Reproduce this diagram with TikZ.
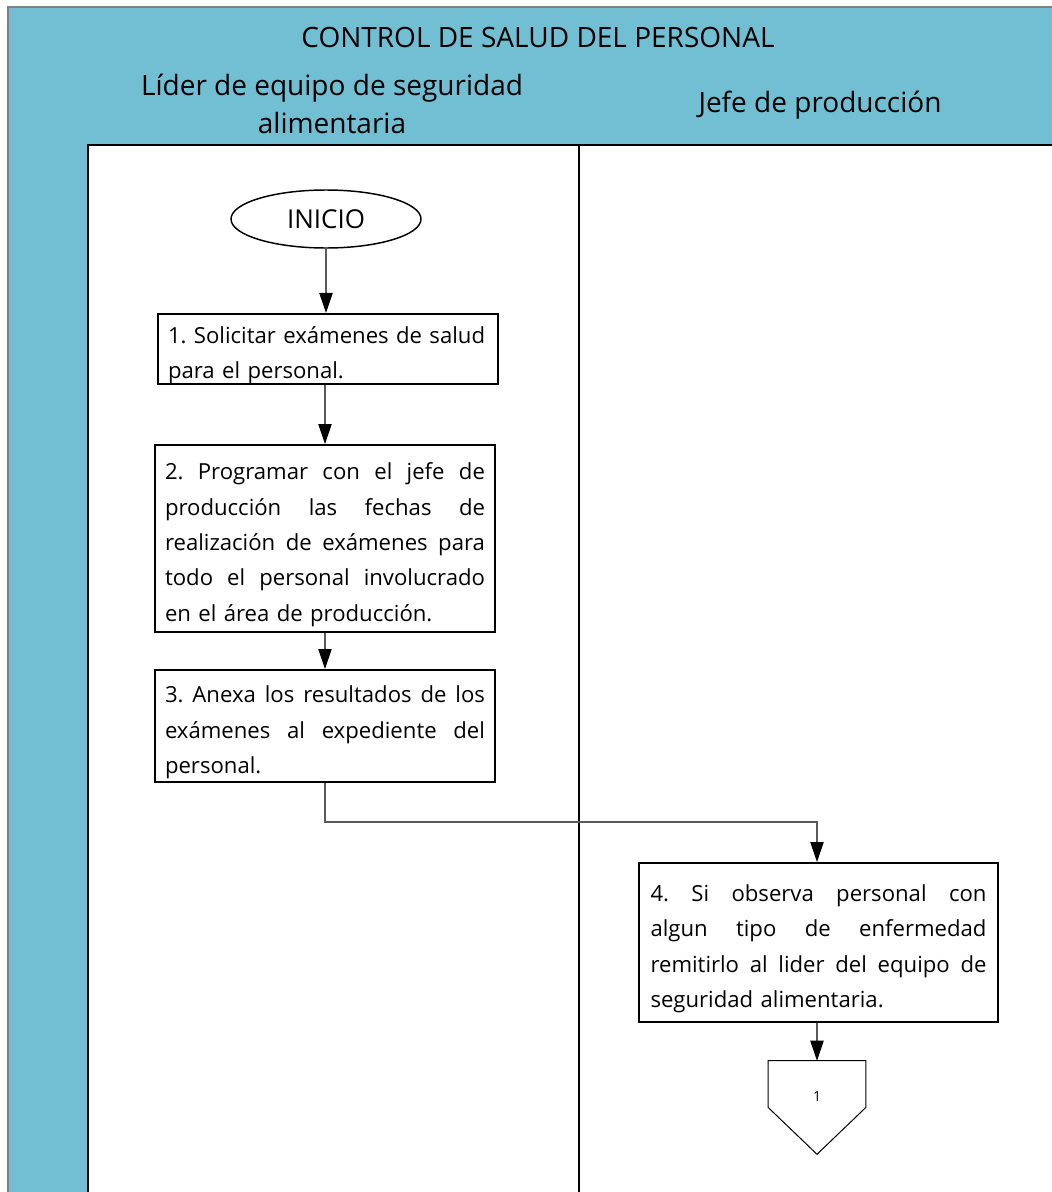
\documentclass[tikz,border=0pt]{standalone}
\usepackage{fontspec}
\setmainfont{Open Sans}
\usetikzlibrary{arrows.meta,shapes.geometric}
\definecolor{lanefill}{RGB}{114,190,211}
\definecolor{framegray}{RGB}{128,128,128}
\definecolor{linkgray}{RGB}{90,90,90}
\frenchspacing
% one fully justified line of a step text: interword spaces share the slack
\newcommand\jline[1]{\noindent\hbox to \hsize{\spaceskip=\fontdimen2\font plus 1fil\relax #1}}
% one line set at its natural width
\newcommand\nline[1]{\noindent\hbox to \hsize{#1\hfil}}
% extra room above the first line of a step text
\newcommand\headroom{\rule{0pt}{22pt}}

\begin{document}
\begin{tikzpicture}[x=0.75pt,y=-0.75pt,
  stepbox/.style={draw, line width=1.5pt, rectangle, inner sep=0pt,
    minimum width=255pt, text width=240pt, align=left,
    font=\fontsize{16.6}{26.6}\selectfont},
  widebox/.style={stepbox, minimum width=269.25pt, text width=252pt},
  flow/.style={-{Triangle[length=15pt,width=10pt,color=black]}, line width=0.8pt, draw=linkgray},
  heading/.style={font=\fontsize{21}{28}\selectfont, align=center}
  ]
\useasboundingbox (0,0) rectangle (1052,1192);

% pool background and frame
\fill[lanefill] (8,7) rectangle (1052,1192);
\draw[framegray, line width=1.5pt] (8,1192) -- (8,7) -- (1052,7);
\fill[white] (88,145) rectangle (1052,1192);
\draw[black, line width=1.5pt] (88,1192) -- (88,145) -- (1052,145);
\draw[black, line width=1.5pt] (579,145) -- (579,1192);

% titles
\node[heading] (title) at (538,37) {CONTROL DE SALUD DEL PERSONAL};
\node[heading] (laneA) at (332,104) {Líder de equipo de seguridad\\alimentaria};
\node[heading] (laneB) at (820,105) {Jefe de producción};

% flow
\node[ellipse, draw, line width=1.1pt, minimum width=142.5pt, minimum height=43.5pt,
  inner sep=0pt, font=\fontsize{19.5}{22}\selectfont] (inicio) at (326,219) {INICIO};

\node[stepbox, minimum height=51pt] (s1) at (328,349)
  {\nline{\headroom1. Solicitar exámenes de salud}\\
   para el personal.};

\node[stepbox, minimum height=140.25pt] (s2) at (325,538.5)
  {\jline{\headroom2. Programar con el jefe de}\\
   \jline{producción las fechas de}\\
   \jline{realización de exámenes para}\\
   \jline{todo el personal involucrado}\\
   en el área de producción.};

\node[stepbox, minimum height=84pt] (s3) at (325,726)
  {\jline{\headroom3. Anexa los resultados de los}\\
   \jline{exámenes al expediente del}\\
   personal.};

\node[widebox, minimum height=119.25pt] (s4) at (818.5,942.5)
  {\jline{\headroom4. Si observa personal con}\\
   \jline{algun tipo de enfermedad}\\
   \jline{remitirlo al lider del equipo de}\\
   seguridad alimentaria.};

% off-page connector
\node[minimum width=72.75pt, minimum height=69.75pt, inner sep=0pt] (pg) at (817,1107.5) {};
\draw[line width=0.75pt] (pg.north west) -- (pg.north east) -- (pg.east) -- (pg.south) -- (pg.west) -- cycle;
\node[font=\fontsize{10.5}{12}\selectfont] (pgnum) at (817,1096) {1};

% connectors
\draw[flow] (inicio.south) -- (inicio.south |- s1.north);
\draw[flow] (s1.south -| s2.north) -- (s2.north);
\draw[flow] (s2.south) -- (s3.north);
\coordinate (bend) at (325,822);
\draw[flow] (s3.south) -- (bend) -- (bend -| pg.north) -- (pg.north |- s4.north);
\draw[flow] (s4.south -| pg.north) -- (pg.north);
\end{tikzpicture}
\end{document}
